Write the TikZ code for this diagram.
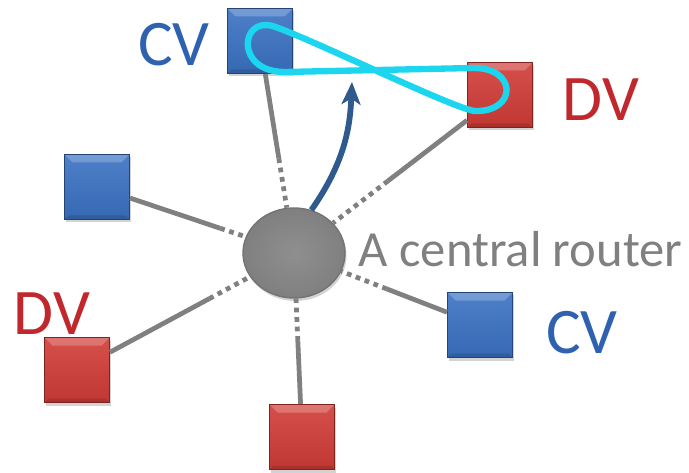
\documentclass[tikz,border=0pt]{standalone}
\usepackage{fontspec}
\setmainfont{Carlito}
\usetikzlibrary{arrows.meta,shadows,shapes.geometric}

\definecolor{cvblue}{HTML}{2E62B0}
\definecolor{dvred}{HTML}{C0282E}
\definecolor{boxblue}{HTML}{3A72C2}
\definecolor{boxred}{HTML}{D13C37}
\definecolor{linkgray}{HTML}{808080}
\definecolor{loopcyan}{HTML}{1CD6EF}
\definecolor{arrowblue}{HTML}{2F5A8E}

\tikzset{
	box/.style={minimum size=1.3cm, inner sep=0pt, line width=.6pt,
		drop shadow={shadow xshift=.3mm, shadow yshift=-.6mm, opacity=.35},
		path picture={
			\fill[white,opacity=.22] (path picture bounding box.north west) -- (path picture bounding box.north east)
				-- ([shift={(-.16,-.16)}]path picture bounding box.north east) -- ([shift={(.16,-.16)}]path picture bounding box.north west) -- cycle;
			\fill[black,opacity=.12] (path picture bounding box.south west) -- (path picture bounding box.south east)
				-- ([shift={(-.08,.08)}]path picture bounding box.south east) -- ([shift={(.08,.08)}]path picture bounding box.south west) -- cycle;
		}},
	cvbox/.style={box, draw=boxblue!60!black, top color=boxblue!90!white, bottom color=boxblue!92!black},
	dvbox/.style={box, draw=boxred!60!black, top color=boxred!90!white, bottom color=boxred!92!black},
	link/.style={linkgray, line width=2.7pt},
	linkdots/.style={linkgray, line width=2.7pt, dash pattern=on 2.7pt off 2.7pt},
	tag/.style={font=\fontsize{37}{40}\selectfont, inner sep=0pt}
}

\begin{document}
\begin{tikzpicture}
	\useasboundingbox (0,0) rectangle (13.78,9.44);

	% router and the hosts round it
	\node[ellipse, minimum width=2.04cm, minimum height=1.8cm, inner sep=0pt, draw=black!55, line width=.8pt,
		inner color=black!44, outer color=black!50, drop shadow={shadow xshift=.3mm, shadow yshift=-.6mm, opacity=.35}] (router) at (5.88,4.38) {};
	\node[cvbox] (cvtop) at (5.2,8.62) {};
	\node[dvbox] (dvtop) at (10.0,7.54) {};
	\node[cvbox] (cvleft) at (1.94,5.7) {};
	\node[dvbox] (dvleft) at (1.54,2.04) {};
	\node[dvbox] (dvbottom) at (6.04,.7) {};
	\node[cvbox] (cvright) at (9.6,2.94) {};

	% links, solid near the host and dotted near the router
	\path (cvtop) -- coordinate[pos=.63] (k1) (router);
	\path (dvtop) -- coordinate[pos=.59] (k2) (router);
	\path (cvleft) -- coordinate[pos=.78] (k3) (router);
	\path (dvleft) -- coordinate[pos=.71] (k4) (router);
	\path (dvbottom) -- coordinate[pos=.6] (k5) (router);
	\path (cvright) -- coordinate[pos=.57] (k6) (router);
	\draw[link] (cvtop) -- (k1);
	\draw[linkdots] (k1) -- (router);
	\draw[link] (dvtop) -- (k2);
	\draw[linkdots] (k2) -- (router);
	\draw[link] (cvleft) -- (k3);
	\draw[linkdots] (k3) -- (router);
	\draw[link] (dvleft) -- (k4);
	\draw[linkdots] (k4) -- (router);
	\draw[link] (dvbottom) -- (k5);
	\draw[linkdots] (k5) -- (router);
	\draw[link] (cvright) -- (k6);
	\draw[linkdots] (k6) -- (router);

	% loop between the two top hosts
	\draw[loopcyan, line width=3.6pt] (5.7,8.0) -- (9.45,8.08)
		.. controls (10.35,8.1) and (10.35,7.2) .. (9.5,7.22)
		.. controls (9.1,7.25) and (6.1,8.72) .. (5.45,8.92)
		.. controls (4.8,9.1) and (4.7,8.0) .. (5.7,8.0) -- cycle;

	\coordinate (tip) at (7.04,7.8);
	\draw[arrowblue, line width=3.3pt, -{Stealth[length=4.5mm, width=3.8mm, inset=1.2mm]}]
		(router.68) .. controls (6.9,6.2) and (7.0,6.9) .. (tip);

	% labels
	\node[tag, cvblue] (lcvtop) at (3.48,8.54) {CV};
	\node[tag, dvred] (ldvtop) at (12.02,7.44) {DV};
	\node[tag, dvred] (ldvleft) at (1.04,3.16) {DV};
	\node[tag, cvblue] (lcvright) at (11.64,2.78) {CV};
	\node[linkgray, inner sep=0pt, font=\fontsize{28.8}{32}\selectfont] (lrouter) at (10.41,4.46) {A central router};
\end{tikzpicture}
\end{document}
